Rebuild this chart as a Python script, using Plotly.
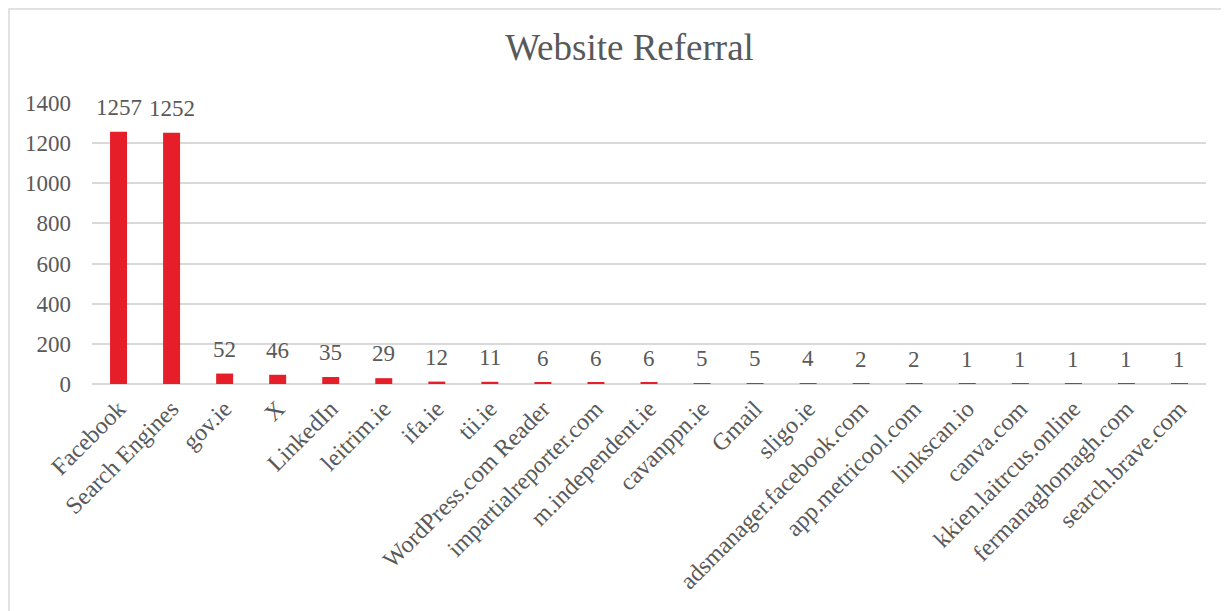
import plotly.graph_objects as go

categories = ["Facebook", "Search Engines", "gov.ie", "X", "LinkedIn", "leitrim.ie",
              "ifa.ie", "tii.ie", "WordPress.com Reader", "impartialreporter.com",
              "m.independent.ie", "cavanppn.ie", "Gmail", "sligo.ie",
              "adsmanager.facebook.com", "app.metricool.com", "linkscan.io",
              "canva.com", "kkien.laitrcus.online", "fermanaghomagh.com", "search.brave.com"]
values = [1257, 1252, 52, 46, 35, 29, 12, 11, 6, 6, 6, 5, 5, 4, 2, 2, 1, 1, 1, 1, 1]
y_ticks = [0, 200, 400, 600, 800, 1000, 1200, 1400]

# page has 8px body margin -> figure coordinates are page coords minus 8
OFF = 8
W, H = 1229 - OFF, 611 - OFF
L, R, T, B = 92 - OFF, 1206 - OFF, 103 - OFF, 384 - OFF

FONT = "Liberation Serif"
GREY = "#595959"

fig = go.Figure(go.Bar(
    x=categories, y=values,
    marker=dict(color="#E51E2A", line=dict(width=0)),
    width=0.32,
))

for c, v in zip(categories, values):
    fig.add_annotation(x=c, y=v, text=str(v), showarrow=False, yanchor="bottom",
                       yshift=10, font=dict(family=FONT, size=23, color=GREY))

fig.update_layout(
    width=W, height=H,
    margin=dict(l=L, r=W - R, t=T, b=H - B, autoexpand=False),
    paper_bgcolor="white", plot_bgcolor="white",
    title=dict(text="Website Referral", x=(629.5 - OFF) / W, xanchor="center",
               y=1 - (47 - OFF) / H, yanchor="middle",
               font=dict(family=FONT, size=37, color=GREY)),
    showlegend=False,
    font=dict(family=FONT, color=GREY),
)
fig.update_xaxes(tickangle=-45, tickfont=dict(family=FONT, size=24, color=GREY),
                 showgrid=False, showline=False, ticks="", automargin=False,
                 ticklabelstandoff=5)
fig.update_yaxes(range=[0, 1400], tickvals=y_ticks, showgrid=True, gridcolor="#D9D9D9",
                 gridwidth=1.5, zeroline=True, zerolinecolor="#D9D9D9", zerolinewidth=1.5,
                 tickfont=dict(family=FONT, size=23, color=GREY), ticklabelstandoff=20,
                 automargin=False)

pw, ph = R - L, B - T
def px(x):
    return (x - L) / pw
def py(y):
    return (B - y) / ph
fig.add_shape(type="rect", xref="paper", yref="paper",
              x0=px(1), x1=px(1240), y0=py(625), y1=py(1),
              line=dict(color="#D9D9D9", width=1.5), fillcolor="rgba(0,0,0,0)", layer="below")

fig.write_html("out.html")
